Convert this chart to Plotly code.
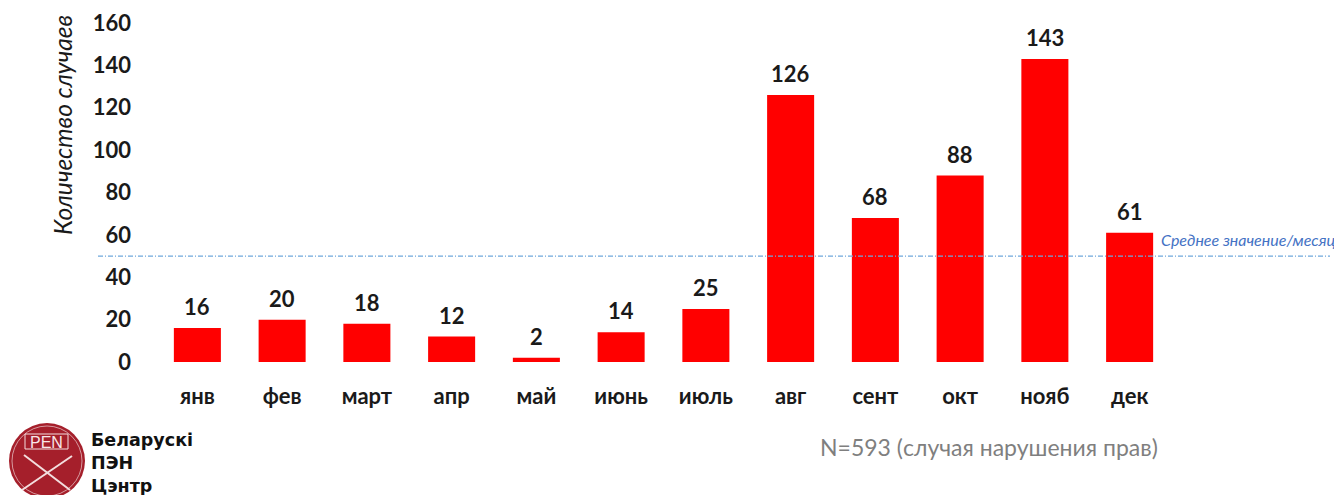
import plotly.graph_objects as go

months = ['янв', 'фев', 'март', 'апр', 'май', 'июнь', 'июль', 'авг', 'сент', 'окт', 'нояб', 'дек']
cases = [16, 20, 18, 12, 2, 14, 25, 126, 68, 88, 143, 61]
avg_per_month = 50
y_ticks = [0, 20, 40, 60, 80, 100, 120, 140, 160]

# page has an 8px body margin, so work in page pixels and shift
OFF = 8
W, H = 1342, 495
L, T = 155 - OFF, 23 - OFF
R, B = W - (1172 - OFF), H - (362 - OFF)
pw, ph = W - L - R, H - T - B


def px(x):
    return (x - OFF - L) / pw


def py(y):
    return (H - B - (y - OFF)) / ph


font = 'Lato, Calibri, Arial, sans-serif'
dark = '#1a1a1a'

fig = go.Figure(go.Bar(
    x=months, y=cases,
    marker=dict(color='#ff0000', line=dict(width=0)),
    width=0.555,
))

for m, v in zip(months, cases):
    fig.add_annotation(x=m, y=v, text='<b>%d</b>' % v, showarrow=False,
                       xanchor='center', yanchor='bottom', yshift=6,
                       font=dict(family=font, size=22, color=dark))

# average line
fig.add_shape(type='line', xref='paper', yref='y',
              x0=px(98), x1=px(1330), y0=avg_per_month, y1=avg_per_month,
              line=dict(color='#6fa8dc', width=1.3, dash='5px,2px,1px,2px'))
fig.add_annotation(xref='paper', yref='paper', x=px(1159), y=py(239),
                   text='<i>Среднее значение/месяц</i>', showarrow=False,
                   xanchor='left', yanchor='middle',
                   font=dict(family=font, size=16, color='#4472c4'))

# axis title
fig.add_annotation(xref='paper', yref='paper', x=px(62), y=py(125),
                   text='<i>Количество случаев</i>', textangle=-90, showarrow=False,
                   xanchor='center', yanchor='middle',
                   font=dict(family=font, size=24.5, color=dark))

# footnote
fig.add_annotation(xref='paper', yref='paper', x=px(989), y=py(447),
                   text='N=593 (случая нарушения прав)', showarrow=False,
                   xanchor='center', yanchor='middle',
                   font=dict(family=font, size=23, color='#7f7f7f'))

# logo
cx, cy, rad = 47, 461, 38
fig.add_shape(type='circle', xref='paper', yref='paper',
              x0=px(cx - rad), x1=px(cx + rad), y0=py(cy + rad), y1=py(cy - rad),
              fillcolor='#a51f2b', line=dict(width=0))
fig.add_shape(type='circle', xref='paper', yref='paper',
              x0=px(cx - rad + 3), x1=px(cx + rad - 3), y0=py(cy + rad - 3), y1=py(cy - rad + 3),
              line=dict(color='rgba(255,255,255,0.55)', width=1))
fig.add_shape(type='line', xref='paper', yref='paper',
              x0=px(24), y0=py(455), x1=px(70), y1=py(490),
              line=dict(color='#f3dede', width=2))
fig.add_shape(type='line', xref='paper', yref='paper',
              x0=px(72), y0=py(456), x1=px(22), y1=py(490),
              line=dict(color='#f3dede', width=2))
fig.add_shape(type='rect', xref='paper', yref='paper',
              x0=px(25), x1=px(68), y0=py(449), y1=py(434),
              line=dict(color='#f3dede', width=1), fillcolor='rgba(0,0,0,0)')
fig.add_annotation(xref='paper', yref='paper', x=px(46.5), y=py(442),
                   text='PEN', showarrow=False, xanchor='center', yanchor='middle',
                   font=dict(family='Arial', size=16, color='#f8e8e8'))
fig.add_annotation(xref='paper', yref='paper', x=px(89), y=py(463),
                   text='<b>Беларускі<br>ПЭН<br>Цэнтр</b>', showarrow=False,
                   xanchor='left', yanchor='middle', align='left',
                   font=dict(family='DejaVu Sans, sans-serif', size=17.5, color='#111111'))

fig.update_layout(
    width=W, height=H,
    margin=dict(l=L, r=R, t=T, b=B),
    plot_bgcolor='white', paper_bgcolor='white',
    showlegend=False,
    xaxis=dict(showgrid=False, showline=False, zeroline=False, ticks='',
               automargin=False,
               tickvals=months, ticktext=['<b>%s</b>' % m for m in months],
               tickfont=dict(family=font, size=22, color=dark),
               ticklabelstandoff=19),
    yaxis=dict(range=[0, 160], tickvals=y_ticks, automargin=False,
               ticktext=['<b>%d</b>' % t for t in y_ticks],
               showgrid=False, showline=False, zeroline=False, ticks='',
               tickfont=dict(family=font, size=22, color=dark),
               ticklabelstandoff=23),
)

fig.write_html('out.html')
